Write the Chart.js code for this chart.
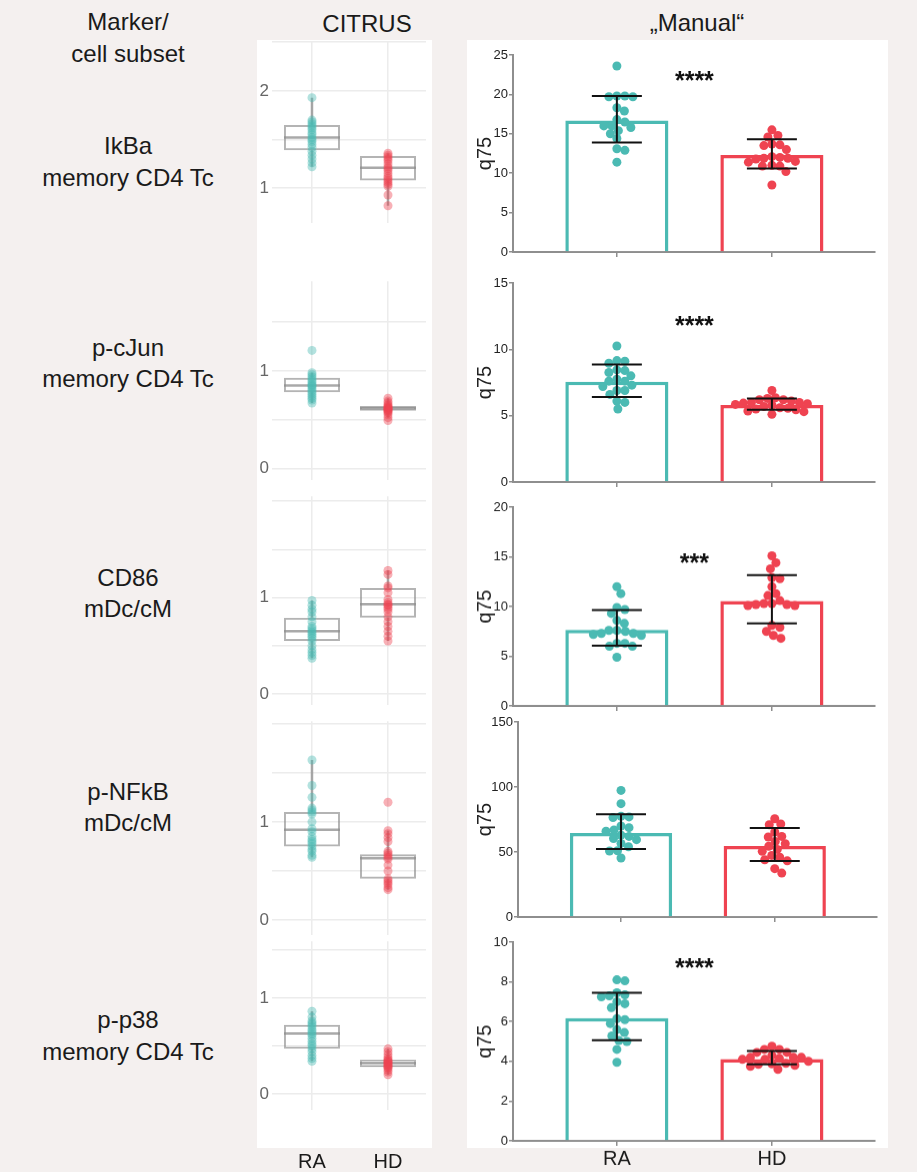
<!DOCTYPE html>
<html lang="en">
<head>
<meta charset="UTF-8">
<title>CITRUS vs manual q75</title>
<script src="https://cdn.jsdelivr.net/npm/chart.js"></script>
<style>
  body { margin: 0; background: #f4f0ef; font-family: "Liberation Sans", Arial, sans-serif; color: #1a1a1a; }
  #page { position: relative; width: 917px; height: 1172px; overflow: hidden; }
  .lbl { position: absolute; font-size: 24px; line-height: 1; white-space: nowrap; transform: translate(-50%, -50%); }
  .panel { position: absolute; background: #fff; }
  canvas { position: absolute; }
  canvas.citrus { filter: blur(0.4px); }
</style>
</head>
<body>
<div id="page">
  <div class="panel" style="left:257px;top:40px;width:175px;height:1108px"></div>
  <div class="panel" style="left:467px;top:40px;width:421px;height:1108px"></div>
</div>
<script>
const markers = ['IkBa', 'p-cJun', 'CD86', 'p-NFkB', 'p-p38'];
const subsets = ['memory CD4 Tc', 'memory CD4 Tc', 'mDc/cM', 'mDc/cM', 'memory CD4 Tc'];
const groups = ['RA', 'HD'];

// "Manual" q75 values per patient
const manualRA = [
  [23.6, 19.8, 19.8, 19.7, 19.7, 18.3, 17.9, 16.8, 16.5, 16.0, 16.0, 15.8, 15.4, 15.0, 14.4, 13.1, 12.9, 11.4],
  [10.25, 9.15, 9.1, 8.95, 8.45, 8.4, 8.25, 8.0, 7.75, 7.6, 7.6, 7.3, 7.2, 6.9, 6.9, 6.6, 6.1, 6.0, 5.5],
  [12.0, 11.3, 9.9, 9.7, 9.3, 8.6, 8.3, 7.6, 7.6, 7.5, 7.3, 7.3, 7.2, 7.1, 6.3, 6.3, 6.0, 6.0, 4.9],
  [97.4, 87.2, 77.5, 77.0, 76.5, 70.0, 68.7, 67.0, 66.0, 63.0, 62.0, 60.4, 59.5, 56.6, 54.0, 51.0, 50.8, 45.4],
  [8.1, 8.05, 7.45, 7.35, 7.3, 7.25, 7.0, 6.9, 6.7, 6.15, 6.1, 5.9, 5.6, 5.45, 5.28, 5.05, 5.0, 4.6, 3.95]
];
const manualHD = [
  [15.5, 14.8, 14.6, 13.7, 13.6, 13.5, 13.0, 12.1, 12.0, 11.9, 11.9, 11.8, 11.5, 11.4, 11.0, 10.9, 10.9, 10.2, 8.5],
  [6.9, 6.35, 6.3, 6.2, 6.2, 6.1, 6.0, 6.0, 5.95, 5.9, 5.85, 5.8, 5.7, 5.6, 5.55, 5.5, 5.45, 5.35, 5.3, 5.1],
  [15.1, 14.4, 13.8, 12.9, 12.8, 12.0, 11.3, 11.1, 10.6, 10.3, 10.3, 10.2, 10.2, 10.1, 10.1, 8.1, 7.9, 7.5, 7.1, 6.8],
  [75.6, 71.5, 71.0, 65.4, 62.0, 61.5, 58.0, 56.4, 54.4, 52.0, 50.5, 47.4, 46.0, 44.0, 43.2, 37.2, 33.8],
  [4.76, 4.6, 4.6, 4.45, 4.45, 4.3, 4.2, 4.2, 4.2, 4.15, 4.1, 4.1, 4.0, 3.9, 3.87, 3.85, 3.8, 3.75, 3.6]
];
const manualMean = [[16.7, 12.3], [7.55, 5.8], [7.65, 10.55], [64.6, 54.6], [6.17, 4.12]];
const manualErrLo = [[13.9, 10.6], [6.4, 5.45], [6.05, 8.3], [52.3, 43.1], [5.06, 3.85]];
const manualErrHi = [[19.8, 14.3], [8.85, 6.3], [9.65, 13.15], [79.0, 68.5], [7.45, 4.52]];
const manualYMax = [25, 15, 20, 150, 10];
const manualYStep = [5, 5, 5, 50, 2];
const sigLabel = ['****', '****', '***', '', '****'];
const sigY = [22.5, 12.2, 14.9, null, 9.0];

// CITRUS values per patient and box statistics
const citrusRA = [
  [1.93, 1.70, 1.68, 1.66, 1.64, 1.62, 1.60, 1.57, 1.55, 1.52, 1.50, 1.48, 1.45, 1.42, 1.38, 1.34, 1.30, 1.26, 1.22],
  [1.21, 0.98, 0.96, 0.94, 0.92, 0.90, 0.88, 0.86, 0.85, 0.84, 0.82, 0.80, 0.78, 0.76, 0.74, 0.72, 0.70, 0.67],
  [0.97, 0.92, 0.88, 0.85, 0.80, 0.75, 0.70, 0.68, 0.66, 0.64, 0.62, 0.60, 0.58, 0.55, 0.50, 0.46, 0.43, 0.40, 0.37],
  [1.63, 1.37, 1.25, 1.14, 1.12, 1.10, 1.08, 1.00, 0.93, 0.90, 0.85, 0.82, 0.80, 0.78, 0.75, 0.72, 0.70, 0.66, 0.64],
  [0.86, 0.80, 0.76, 0.74, 0.72, 0.70, 0.67, 0.65, 0.63, 0.61, 0.58, 0.55, 0.52, 0.50, 0.47, 0.44, 0.40, 0.37, 0.34]
];
const citrusHD = [
  [1.36, 1.34, 1.32, 1.30, 1.28, 1.25, 1.22, 1.20, 1.18, 1.15, 1.12, 1.10, 1.08, 1.06, 1.04, 1.02, 0.93, 0.82],
  [0.72, 0.69, 0.67, 0.65, 0.64, 0.63, 0.62, 0.62, 0.61, 0.60, 0.60, 0.59, 0.58, 0.57, 0.55, 0.52, 0.49],
  [1.28, 1.24, 1.12, 1.10, 1.05, 0.98, 0.95, 0.93, 0.92, 0.90, 0.88, 0.85, 0.80, 0.75, 0.70, 0.65, 0.60, 0.55],
  [1.20, 0.91, 0.88, 0.84, 0.80, 0.70, 0.68, 0.66, 0.64, 0.62, 0.56, 0.50, 0.42, 0.40, 0.38, 0.36, 0.33, 0.31],
  [0.47, 0.44, 0.41, 0.38, 0.36, 0.35, 0.34, 0.33, 0.32, 0.31, 0.30, 0.29, 0.28, 0.27, 0.25, 0.23, 0.20]
];
const citrusQ1 = [[1.39, 1.08], [0.78, 0.59], [0.55, 0.79], [0.75, 0.42], [0.47, 0.28]];
const citrusMed = [[1.52, 1.21], [0.85, 0.615], [0.65, 0.93], [0.92, 0.63], [0.63, 0.32]];
const citrusQ3 = [[1.65, 1.33], [0.93, 0.64], [0.79, 1.10], [1.10, 0.67], [0.72, 0.36]];
const citrusWLo = [[1.22, 0.82], [0.67, 0.52], [0.37, 0.55], [0.64, 0.31], [0.34, 0.20]];
const citrusWHi = [[1.93, 1.36], [0.98, 0.72], [0.97, 1.28], [1.63, 0.91], [0.86, 0.47]];
const citrusTickLabels = [[1, 2], [0, 1], [0, 1], [0, 1], [0, 1]];

// layout (pixels on the page)
const rowLabelY = [[146, 178], [348, 379], [578, 609], [792, 823], [1020, 1052]];
const manualBox = [
  { top: 55, bottom: 252, axisW: 46, right: 13 },
  { top: 282.7, bottom: 481.7, axisW: 46, right: 13 },
  { top: 507.3, bottom: 706, axisW: 46, right: 13 },
  { top: 721.7, bottom: 916.7, axisW: 51, right: 11 },
  { top: 942.3, bottom: 1140.7, axisW: 46, right: 13 }
];
const citrusBox = [
  { top: 40, bottom: 223, min: 0.643, max: 2.51 },
  { top: 280, bottom: 480, min: -0.12, max: 1.92 },
  { top: 495, bottom: 705, min: -0.113, max: 2.05 },
  { top: 720, bottom: 935, min: -0.152, max: 2.025 },
  { top: 940, bottom: 1110, min: -0.165, max: 1.588 }
];

const teal = '#4bbab3', red = '#ef4351';
const tealA = 'rgba(75,186,179,0.42)', redA = 'rgba(239,67,81,0.42)';
const axisGray = '#8e8e8e';
const FONT = '"Liberation Sans", Arial, sans-serif';
Chart.defaults.font.family = FONT;

const page = document.getElementById('page');

function addText(txt, x, y) {
  const d = document.createElement('div');
  d.className = 'lbl';
  d.textContent = txt;
  d.style.left = x + 'px';
  d.style.top = y + 'px';
  page.appendChild(d);
}

function addCanvas(left, top, w, h, cls) {
  const c = document.createElement('canvas');
  c.width = w; c.height = h;
  c.style.left = left + 'px'; c.style.top = top + 'px';
  c.style.width = w + 'px'; c.style.height = h + 'px';
  if (cls) c.className = cls;
  page.appendChild(c);
  return c;
}

// simple beeswarm: spread points sideways so dots do not pile up
function swarm(values, pxY, pxX, dia) {
  const placed = [];
  const out = new Array(values.length);
  const order = values.map((v, i) => i).sort((a, b) => values[b] - values[a]);
  for (const i of order) {
    const y = values[i] * pxY;
    for (let k = 0; k < 400; k++) {
      const off = k === 0 ? 0 : (k % 2 ? 1 : -1) * Math.ceil(k / 2) * 0.5;
      const hit = placed.some(p => (p.x - off) ** 2 + (p.y - y) ** 2 < dia * dia);
      if (!hit) { placed.push({ x: off, y: y }); out[i] = off / pxX; break; }
    }
  }
  return out;
}

const sigPlugin = {
  id: 'sig',
  afterDatasetsDraw(chart, args, opts) {
    if (!opts.text) return;
    const { ctx, scales } = chart;
    ctx.save();
    ctx.font = 'bold 25px ' + FONT;
    ctx.fillStyle = '#111';
    ctx.textAlign = 'center';
    ctx.textBaseline = 'alphabetic';
    ctx.fillText(opts.text, scales.x.getPixelForValue(0.5), scales.y.getPixelForValue(opts.y) + 14);
    ctx.restore();
  }
};

// headers
addText('Marker/', 128, 22);
addText('cell subset', 128, 54);
addText('CITRUS', 367, 24);
addText('\u201EManual\u201C', 697, 23);
markers.forEach((m, i) => {
  addText(m, 128, rowLabelY[i][0]);
  addText(subsets[i], 128, rowLabelY[i][1]);
});

const xMin = -0.67, xMax = 1.665;

function makeManual(i) {
  const L = manualBox[i];
  const last = i === markers.length - 1;
  const padTop = 14, xH = last ? 44 : 14;
  const h = L.bottom - L.top;
  const w = 421;
  const cv = addCanvas(467, L.top - padTop, w, padTop + h + xH);
  const plotW = w - L.axisW - L.right;
  const pxX = plotW / (xMax - xMin);
  const pxY = h / manualYMax[i];
  const jRA = swarm(manualRA[i], pxY, pxX, 8);
  const jHD = swarm(manualHD[i], pxY, pxX, 8);
  const cap = 25 / pxX;
  const err = [];
  [0, 1].forEach(g => {
    const lo = manualErrLo[i][g], hi = manualErrHi[i][g];
    err.push({ x: g - cap, y: hi }, { x: g + cap, y: hi }, { x: g, y: null },
             { x: g, y: hi }, { x: g, y: lo }, { x: g, y: null },
             { x: g - cap, y: lo }, { x: g + cap, y: lo }, { x: g, y: null });
  });
  new Chart(cv, {
    type: 'bar',
    data: {
      datasets: [
        { type: 'bar', data: [{ x: 0, y: manualMean[i][0] }, { x: 1, y: manualMean[i][1] }],
          backgroundColor: '#fff', borderColor: [teal, red], borderWidth: 3.5,
          barPercentage: 1, categoryPercentage: 0.665, order: 3 },
        { type: 'scatter', data: manualRA[i].map((v, k) => ({ x: jRA[k], y: v })),
          backgroundColor: teal, borderWidth: 0, pointRadius: 4.5, order: 2 },
        { type: 'scatter', data: manualHD[i].map((v, k) => ({ x: 1 + jHD[k], y: v })),
          backgroundColor: red, borderWidth: 0, pointRadius: 4.5, order: 2 },
        { type: 'scatter', data: err, showLine: true, spanGaps: false, borderColor: '#111',
          borderWidth: 2, pointRadius: 0, order: 1 }
      ]
    },
    options: {
      responsive: false, animation: false, devicePixelRatio: 1,
      layout: { padding: { top: padTop, right: L.right, left: 0, bottom: 0 } },
      plugins: { legend: { display: false }, tooltip: { enabled: false },
                 sig: { text: sigLabel[i], y: sigY[i] } },
      scales: {
        x: {
          type: 'linear', min: xMin, max: xMax, offset: false,
          afterBuildTicks: s => { s.ticks = [{ value: 0 }, { value: 1 }]; },
          afterFit: s => { s.height = xH; },
          border: { display: true, color: axisGray, width: 2 },
          grid: { offset: false, drawOnChartArea: false, drawTicks: true, tickLength: 5, color: axisGray, lineWidth: 1.5 },
          ticks: { callback: v => last ? groups[v] : '', font: { size: 20 }, color: '#1a1a1a',
                   padding: 1, maxRotation: 0, autoSkip: false }
        },
        y: {
          min: 0, max: manualYMax[i],
          afterFit: s => { s.width = L.axisW; },
          border: { display: true, color: axisGray, width: 2 },
          grid: { drawOnChartArea: false, drawTicks: true, tickLength: 4, color: axisGray, lineWidth: 1.5 },
          ticks: { stepSize: manualYStep[i], font: { size: 13 }, color: '#222', padding: 1 },
          title: { display: true, text: 'q75', font: { size: 20 }, color: '#222', padding: { top: 6, bottom: 0 } }
        }
      }
    },
    plugins: [sigPlugin]
  });
}

function makeCitrus(i) {
  const L = citrusBox[i];
  const last = i === markers.length - 1;
  const padTop = 12, xH = last ? 62 : 14;
  const h = L.bottom - L.top;
  const cv = addCanvas(257, L.top - padTop, 175, padTop + h + xH, 'citrus');
  const hw = 0.368;
  const lines = [];
  [0, 1].forEach(g => {
    lines.push({ x: g - hw, y: citrusMed[i][g] }, { x: g + hw, y: citrusMed[i][g] }, { x: g, y: null },
               { x: g, y: citrusQ3[i][g] }, { x: g, y: citrusWHi[i][g] }, { x: g, y: null },
               { x: g, y: citrusQ1[i][g] }, { x: g, y: citrusWLo[i][g] }, { x: g, y: null });
  });
  const gridC = '#ececec';
  new Chart(cv, {
    type: 'bar',
    data: {
      datasets: [
        { type: 'bar', data: [0, 1].map(g => ({ x: g, y: [citrusQ1[i][g], citrusQ3[i][g]] })),
          backgroundColor: 'rgba(255,255,255,0)', borderColor: 'rgba(140,140,140,0.65)',
          borderWidth: 2, borderSkipped: false, barPercentage: 1, categoryPercentage: 0.737, order: 3 },
        { type: 'scatter', data: lines, showLine: true, spanGaps: false,
          borderColor: 'rgba(140,140,140,0.75)', borderWidth: 2.5, pointRadius: 0, order: 2 },
        { type: 'scatter', data: citrusRA[i].map(v => ({ x: 0, y: v })),
          backgroundColor: tealA, borderWidth: 0, pointRadius: 4.5, order: 1 },
        { type: 'scatter', data: citrusHD[i].map(v => ({ x: 1, y: v })),
          backgroundColor: redA, borderWidth: 0, pointRadius: 4.5, order: 1 }
      ]
    },
    options: {
      responsive: false, animation: false, devicePixelRatio: 1,
      layout: { padding: { top: padTop, right: 6, left: 0, bottom: 0 } },
      plugins: { legend: { display: false }, tooltip: { enabled: false } },
      scales: {
        x: {
          type: 'linear', min: -0.526, max: 1.5, offset: false,
          afterBuildTicks: s => { s.ticks = [{ value: 0 }, { value: 1 }]; },
          afterFit: s => { s.height = xH; },
          border: { display: false },
          grid: { offset: false, color: gridC, lineWidth: 1.5, drawTicks: last,
                  tickLength: 38, tickColor: 'rgba(0,0,0,0)' },
          ticks: { callback: v => last ? groups[v] : '', font: { size: 20 }, color: '#1a1a1a',
                   padding: 2, maxRotation: 0, autoSkip: false }
        },
        y: {
          min: L.min, max: L.max,
          afterBuildTicks: s => {
            const t = [];
            for (let k = Math.ceil(L.min * 2); k / 2 <= L.max; k++) t.push({ value: k / 2 });
            s.ticks = t;
          },
          afterFit: s => { s.width = 15; },
          border: { display: false },
          grid: { color: gridC, lineWidth: 1.5, drawTicks: false },
          ticks: { callback: v => citrusTickLabels[i].includes(v) ? String(v) : '',
                   font: { size: 17 }, color: '#666', padding: 3, autoSkip: false }
        }
      }
    }
  });
}

for (let i = 0; i < markers.length; i++) {
  makeCitrus(i);
  makeManual(i);
}
</script>
</body>
</html>
